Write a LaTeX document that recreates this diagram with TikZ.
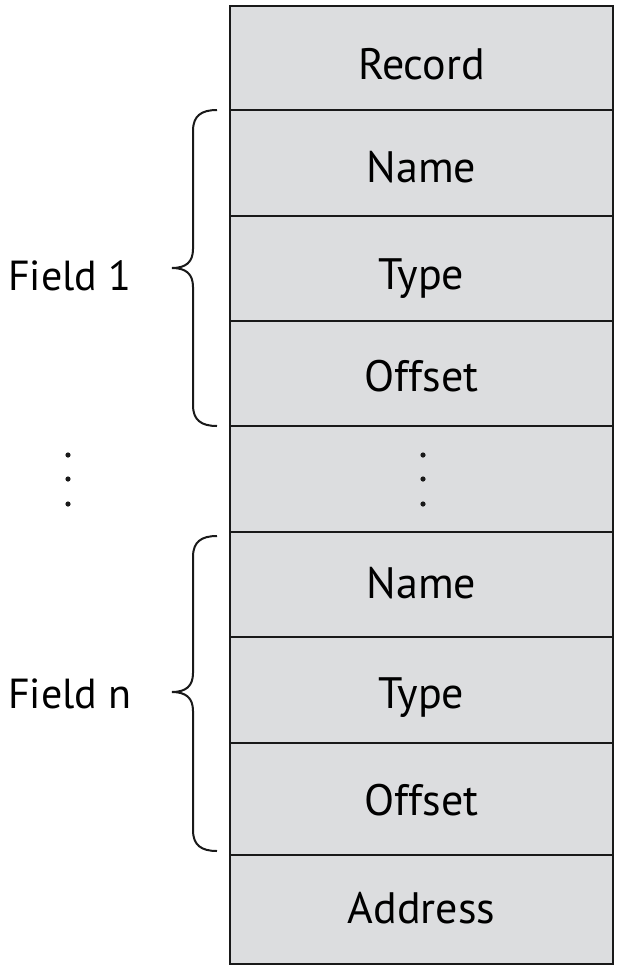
\documentclass[tikz,border=0pt]{standalone}
\usepackage{fontspec}
\setmainfont{PT Sans}
\begin{document}
\begin{tikzpicture}[x=1pt,y=-1pt]
\definecolor{cellgray}{HTML}{DCDDDF}
\tikzset{
  cell/.style={draw=black!90, line width=2.4pt, fill=cellgray, minimum width=383pt, inner sep=0pt},
  ctext/.style={anchor=base, inner sep=0pt, font=\fontsize{44}{48}\selectfont},
  brace/.style={draw=black!90, line width=2pt},
  lbl/.style={anchor=base west, inner sep=0pt, font=\fontsize{42}{46}\selectfont},
  dot/.style={fill=black!90, draw=none}
}
\useasboundingbox (0,0) rectangle (620,972);
\node[cell, minimum height=104pt] (rec) at (421.5,58) {};
\node[cell, minimum height=106pt] (n1) at (421.5,163) {};
\node[cell, minimum height=105pt] (t1) at (421.5,268.5) {};
\node[cell, minimum height=105pt] (o1) at (421.5,373.5) {};
\node[cell, minimum height=106pt] (gap) at (421.5,479) {};
\node[cell, minimum height=105pt] (n2) at (421.5,584.5) {};
\node[cell, minimum height=106pt] (t2) at (421.5,690) {};
\node[cell, minimum height=112pt] (o2) at (421.5,799) {};
\node[cell, minimum height=109pt] (addr) at (421.5,909.5) {};
\node[ctext] (recT) at (421.5,79) {Record};
\node[ctext] (n1T) at (421.5,182) {Name};
\node[ctext] (t1T) at (421.5,289) {Type};
\node[ctext] (o1T) at (421.5,391) {Offset};
\node[ctext] (n2T) at (421.5,598) {Name};
\node[ctext] (t2T) at (421.5,708) {Type};
\node[ctext] (o2T) at (421.5,815) {Offset};
\node[ctext] (addrT) at (421.5,923) {Address};
\foreach \yy in {455,479,504} {
  \fill[dot] (423,\yy) circle (2.6pt);
  \fill[dot] (68,\yy) circle (2.6pt);
}
\draw[brace] (217,110) .. controls (201,110) and (193,116) .. (193,131) -- (193,249)
  .. controls (193,262) and (186,268) .. (172,268)
  .. controls (186,268) and (193,274) .. (193,287) -- (193,405)
  .. controls (193,420) and (201,426) .. (217,426);
\draw[brace] (217,536) .. controls (201,536) and (193,542) .. (193,557) -- (193,673)
  .. controls (193,686) and (186,692) .. (172,692)
  .. controls (186,692) and (193,698) .. (193,711) -- (193,830)
  .. controls (193,845) and (201,851) .. (217,851);
\node[lbl] (f1) at (8,290) {Field 1};
\node[lbl] (fn) at (8,708) {Field n};
\end{tikzpicture}
\end{document}
